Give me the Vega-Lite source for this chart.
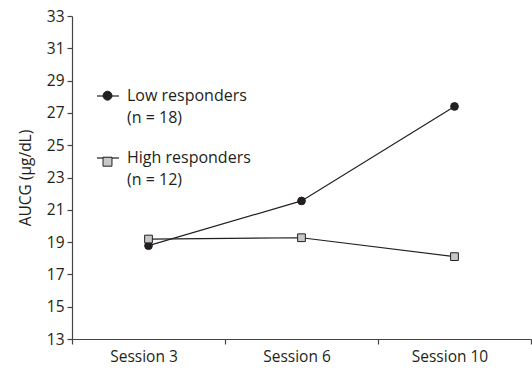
{
  "$schema": "https://vega.github.io/schema/vega-lite/v6.json",
  "width": 459,
  "height": 323,
  "autosize": {"type": "none"},
  "padding": {"left": 72, "top": 16, "right": 1, "bottom": 32},
  "background": "white",
  "config": {
    "font": "Open Sans",
    "view": {"stroke": null},
    "style": {"guide-label": {"lineHeight": 22}},
    "axis": {"grid": false, "domainColor": "#444", "tickColor": "#444", "domainWidth": 1.2, "tickWidth": 1.2, "tickSize": 5, "labelColor": "#231f20", "titleColor": "#231f20", "labelFontSize": 15.5, "titleFontSize": 15.5, "titleFontWeight": "normal"}
  },
  "data": {
    "values": [
      {"session": "Session 3", "group": "Low", "aucg": 18.78},
      {"session": "Session 6", "group": "Low", "aucg": 21.55},
      {"session": "Session 10", "group": "Low", "aucg": 27.4},
      {"session": "Session 3", "group": "High", "aucg": 19.19},
      {"session": "Session 6", "group": "High", "aucg": 19.27},
      {"session": "Session 10", "group": "High", "aucg": 18.1}
    ]
  },
  "encoding": {
    "x": {
      "field": "session", "type": "nominal", "sort": ["Session 3", "Session 6", "Session 10"],
      "scale": {"type": "band", "paddingInner": 0, "paddingOuter": 0},
      "axis": {"title": null, "labelAngle": 0, "tickBand": "extent", "labelPadding": 5, "labelOffset": -5}
    },
    "y": {
      "field": "aucg", "type": "quantitative",
      "scale": {"domain": [13, 33], "nice": false, "zero": false},
      "axis": {"title": "AUCG (µg/dL)", "values": [13, 15, 17, 19, 21, 23, 25, 27, 29, 31, 33], "labelPadding": 3, "titleX": -47, "titleBaseline": "middle"}
    }
  },
  "layer": [
    {
      "mark": {"type": "line", "strokeWidth": 1.2},
      "encoding": {
        "stroke": {
          "field": "group", "type": "nominal", "sort": "descending",
          "scale": {"range": ["#231f20", "#231f20"]},
          "legend": {
            "title": null, "orient": "none", "legendX": 24, "legendY": 68,
            "symbolType": "stroke", "symbolSize": 484, "symbolStrokeWidth": 1.2,
            "labelFontSize": 16, "labelColor": "#231f20", "labelOffset": 7,
            "rowPadding": 20, "labelBaseline": "middle",
            "labelExpr": "datum.value == 'Low' ? ['Low responders', '(n = 18)'] : ['High responders', '(n = 12)']"
          }
        }
      }
    },
    {
      "mark": {"type": "point", "filled": true, "opacity": 1, "strokeWidth": 1},
      "encoding": {
        "shape": {
          "field": "group", "type": "nominal",
          "scale": {"domain": ["Low", "High"], "range": ["circle", "square"]},
          "legend": {
            "title": null, "orient": "none", "legendX": 30.5, "legendY": 74.7,
            "symbolSize": 80, "symbolStrokeWidth": 1,
            "labelFontSize": 1, "labelOffset": 0,
            "rowPadding": 52, "labelBaseline": "middle",
            "labelExpr": "''"
          }
        },
        "fill": {
          "field": "group", "type": "nominal",
          "scale": {"domain": ["Low", "High"], "range": ["#231f20", "#c8c8c8"]},
          "legend": null
        },
        "stroke": {"value": "#231f20"},
        "size": {"value": 60}
      }
    }
  ]
}
